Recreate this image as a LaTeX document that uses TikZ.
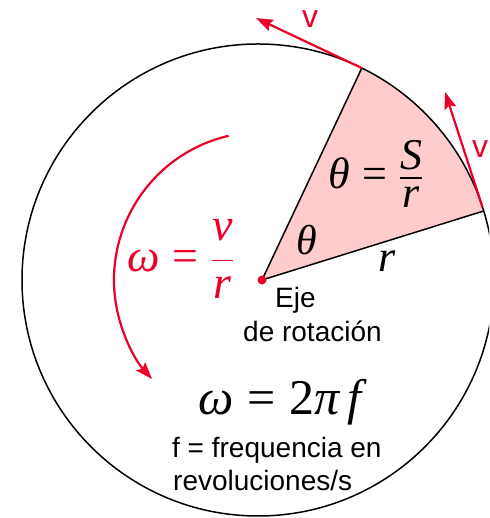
\RequirePackage{fix-cm}
\documentclass[tikz,border=0pt]{standalone}
\usepackage{amsmath}
\usepackage{fontspec}
\setsansfont{Liberation Sans}
\newfontfamily\tms{Liberation Serif}
\usetikzlibrary{arrows.meta}
\definecolor{rojo}{RGB}{236,0,40}
\definecolor{rosa}{RGB}{255,204,206}
\newcommand\mi[1]{\text{\tms\itshape #1}}
\newcommand\mr[1]{\text{\tms #1}}
\newcommand\eqs{\mathrel{\mr{=}}}
\newcommand\myfr[4]{\genfrac{}{}{1.8pt}{0}{\raisebox{#3}{\tms\itshape #1}}{\raisebox{#4}{\tms\itshape #2}}}
\tikzset{
  redarrow/.style={draw=rojo, line width=2.2pt, -{Stealth[length=17pt,width=12pt,inset=3pt]}},
  blackline/.style={draw=black, line width=1.5pt},
  mathtxt/.style={inner sep=0pt, anchor=base, font=\fontsize{#1}{#1}\selectfont},
  sanstxt/.style={inner sep=0pt, anchor=base west, font=\sffamily\fontsize{28}{32}\selectfont},
  vlabel/.style={inner sep=0pt, text=rojo, font=\sffamily\fontsize{32}{36}\selectfont}
}
\begin{document}
\begin{tikzpicture}[x=1pt,y=1pt,line join=round]
\useasboundingbox (0,0) rectangle (489,518);
\clip (0,0) rectangle (489,518);
\coordinate (O) at (258,238);
\coordinate (C) at (262,238);
\path (O) ++(63.9:236) coordinate (P1);
\path (O) ++(17:236) coordinate (P2);
\path (O) ++(18:236) coordinate (Q2);
% sector
\fill[rosa] (C) -- (P2) arc[start angle=17,end angle=63.9,radius=236] -- cycle;
\draw[blackline] (O) circle[radius=236];
\draw[blackline] (P1) -- (C) -- (P2);
% velocity arrows
\draw[redarrow] (P1) -- ++(154.7:117) coordinate (T1);
\draw[redarrow] (Q2) -- ++(108:121) coordinate (T2);
% rotation arrow
\draw[redarrow] (C) ++(103:148) arc[start angle=103,end angle=222,radius=148];
\fill[rojo] (C) circle[radius=4.5];
% labels
\node[vlabel] (v1) at (310,499) {v};
\node[vlabel] (v2) at (480,369) {v};
\node[mathtxt=44] (thetaeq) at (376,329) {$\displaystyle \mi{θ}\eqs\myfr{S}{r}{-10.5pt}{12pt}$};
\node[mathtxt=42] (theta) at (307,263) {$\mi{θ}$};
\node[mathtxt=44] (rlab) at (387,246) {$\mi{r}$};
\node[mathtxt=46, text=rojo] (omegaeq) at (180.5,246) {$\displaystyle \mi{ω}\eqs\myfr{v}{r}{0pt}{5pt}$};
\node[mathtxt=50] (omega2) at (280,103) {$\mi{ω}\eqs\mr{2}\mi{π}\,\mi{f}$};
\node[sanstxt] (eje) at (275,210) {Eje};
\node[sanstxt] (rot) at (243,176) {de rotación};
\node[sanstxt] (freq) at (172,60) {f = frequencia en};
\node[sanstxt] (rev) at (173,27) {revoluciones/s};
\end{tikzpicture}
\end{document}
